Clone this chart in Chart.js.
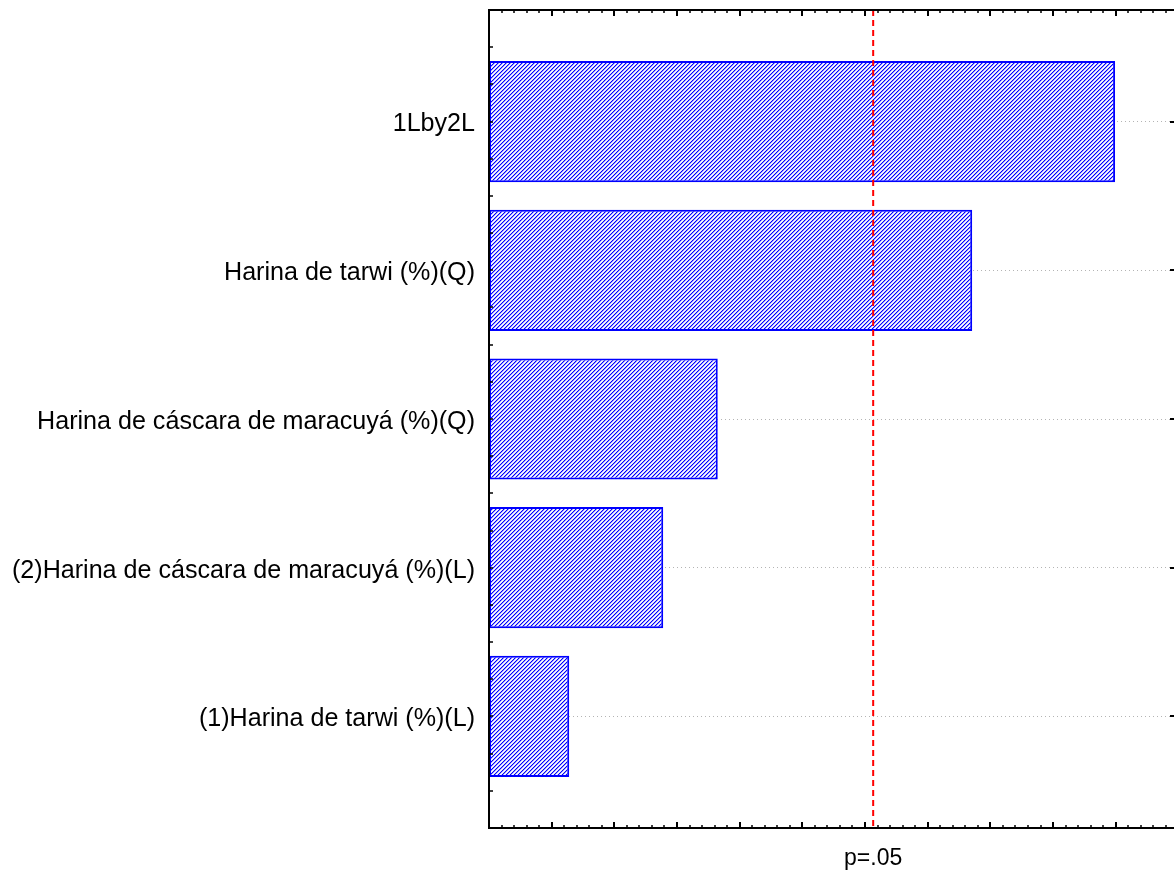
<!DOCTYPE html>
<html>
<head>
<meta charset="utf-8">
<script src="https://cdn.jsdelivr.net/npm/chart.js@4/dist/chart.umd.min.js"></script>
<style>
html, body { margin: 0; padding: 0; background: #fff; overflow: hidden; }
</style>
</head>
<body>
<canvas id="chart" width="1174" height="870"></canvas>
<script>
// effects, top to bottom
const effectLabels = [
  '1Lby2L',
  'Harina de tarwi (%)(Q)',
  'Harina de cáscara de maracuyá (%)(Q)',
  '(2)Harina de cáscara de maracuyá (%)(L)',
  '(1)Harina de tarwi (%)(L)'
];
const effectValues = [9.99, 7.71, 3.65, 2.78, 1.28];
const pLabel = 'p=.05';
const pValue = 6.13;
const xMax = 10.93;

const canvas = document.getElementById('chart');
const ctx = canvas.getContext('2d');

// diagonal hatch like the original
function hatch() {
  const c = document.createElement('canvas');
  c.width = 4; c.height = 4;
  const g = c.getContext('2d');
  const cols = ['#0000ff', '#9c9cff', '#ffffff', '#dcdcff'];
  for (let i = 0; i < 4; i++) {
    for (let j = 0; j < 4; j++) {
      g.fillStyle = cols[(i + j) % 4];
      g.fillRect(i, j, 1, 1);
    }
  }
  return ctx.createPattern(c, 'repeat');
}

const framePlugin = {
  id: 'frame',
  afterDatasetsDraw(chart) {
    const { ctx, chartArea: a, scales: { x, y } } = chart;
    ctx.save();

    // p=.05 line
    const px = x.getPixelForValue(pValue);
    ctx.strokeStyle = '#ff0000';
    ctx.lineWidth = 2;
    ctx.setLineDash([6, 4]);
    ctx.beginPath();
    ctx.moveTo(px, a.top);
    ctx.lineTo(px, a.bottom);
    ctx.stroke();
    ctx.setLineDash([]);

    // frame (right side runs off the picture)
    ctx.strokeStyle = '#000';
    ctx.lineWidth = 2;
    ctx.beginPath();
    ctx.moveTo(a.right + 2, a.top);
    ctx.lineTo(a.left, a.top);
    ctx.lineTo(a.left, a.bottom);
    ctx.lineTo(a.right + 2, a.bottom);
    ctx.stroke();

    // top / bottom ticks
    for (let i = 0; i <= Math.floor(xMax * 5); i++) {
      const major = i % 5 === 0;
      const tx = Math.round(x.getPixelForValue(i / 5));
      const len = major ? 6 : 3;
      ctx.lineWidth = major ? 2 : 1.5;
      ctx.beginPath();
      ctx.moveTo(tx, a.top); ctx.lineTo(tx, a.top + len);
      ctx.moveTo(tx, a.bottom); ctx.lineTo(tx, a.bottom - len);
      ctx.stroke();
    }

    // left ticks every quarter, right ticks at the effects
    ctx.lineWidth = 1.5;
    for (let i = -3; i <= 19; i++) {
      const ty = Math.round(y.getPixelForValue(i / 4));
      ctx.beginPath();
      ctx.moveTo(a.left, ty); ctx.lineTo(a.left + 4, ty);
      ctx.stroke();
    }
    ctx.lineWidth = 2;
    effectLabels.forEach((_, i) => {
      const ty = Math.round(y.getPixelForValue(i));
      ctx.beginPath();
      ctx.moveTo(a.right, ty); ctx.lineTo(a.right - 4, ty);
      ctx.stroke();
    });
    ctx.restore();
  }
};

new Chart(canvas, {
  type: 'bar',
  data: {
    datasets: [{
      data: effectValues.map((v, i) => ({ x: v, y: i })),
      backgroundColor: hatch(),
      borderColor: '#0000ff',
      borderWidth: 2,
      borderSkipped: false,
      categoryPercentage: 1,
      barPercentage: 0.815
    }]
  },
  options: {
    indexAxis: 'y',
    responsive: false,
    animation: false,
    devicePixelRatio: 1,
    layout: { padding: { top: 10, right: 0, left: 0, bottom: 0 } },
    plugins: { legend: { display: false }, tooltip: { enabled: false } },
    scales: {
      x: {
        type: 'linear',
        position: 'bottom',
        min: 0,
        max: xMax,
        grid: { display: false, drawTicks: false },
        border: { display: false },
        afterBuildTicks: (s) => { s.ticks = [{ value: pValue }]; },
        afterFit: (s) => { s.height = 42; s.paddingLeft = 0; s.paddingRight = 0; },
        ticks: {
          callback: () => pLabel,
          autoSkip: false,
          maxRotation: 0,
          padding: 17,
          color: '#000',
          font: { family: "'Liberation Sans', Arial, sans-serif", size: 23 }
        }
      },
      y: {
        type: 'linear',
        min: -0.75,
        max: 4.75,
        reverse: true,
        offset: false,
        afterBuildTicks: (s) => { s.ticks = effectLabels.map((_, i) => ({ value: i })); },
        afterFit: (s) => { s.width = 489; s.paddingTop = 0; s.paddingBottom = 0; },
        grid: { color: '#b4b4b4', lineWidth: 1, drawTicks: false, offset: false },
        border: { display: false, dash: [1, 3] },
        ticks: {
          callback: (v) => effectLabels[v],
          autoSkip: false,
          padding: 14,
          labelOffset: 3,
          color: '#000',
          font: { family: "'Liberation Sans', Arial, sans-serif", size: 25.1 }
        }
      }
    }
  },
  plugins: [framePlugin]
});
</script>
</body>
</html>
